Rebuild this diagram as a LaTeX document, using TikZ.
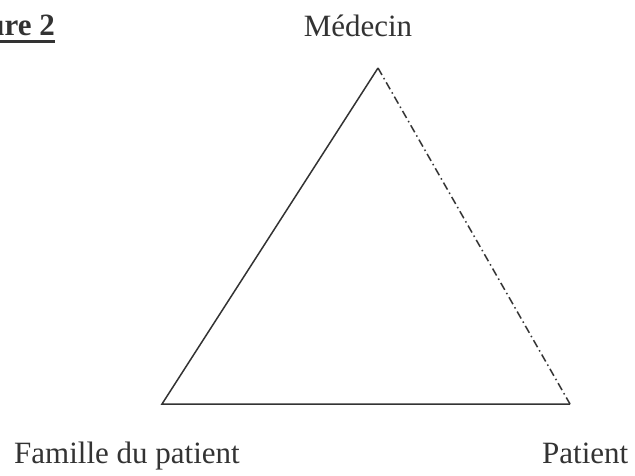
\documentclass[tikz,border=0pt]{standalone}
\usepackage{fontspec}
\setmainfont{Liberation Serif}
\usetikzlibrary{calc}
\begin{document}
\begin{tikzpicture}[x=1pt,y=-1pt,
  lbl/.style={inner sep=0pt, text=black!80, font=\fontsize{31}{37}\selectfont},
  side/.style={draw=black!80, line width=1.5pt},
  dashdot/.style={side, dash pattern=on 8pt off 3.5pt on 1.5pt off 3.5pt}]
\useasboundingbox (0,0) rectangle (635,475);
\begin{scope}
\clip (0,0) rectangle (635,475);
\node[lbl, font=\fontsize{31}{37}\selectfont\bfseries, anchor=base east] (fig) at (55,35) {Figure 2};
\draw[black!80, line width=3pt] ($(fig.base west)+(0,6.5)$) -- ($(fig.base east)+(0,6.5)$);
\end{scope}
\coordinate (M) at (378,68);
\coordinate (F) at (162,404);
\coordinate (P) at (570,404);
\draw[side, line join=miter] (P) -- (F) -- (M);
\draw[dashdot] (M) -- (P);
\node[lbl, anchor=base] (med) at (358,36) {Médecin};
\node[lbl, anchor=base west] (fam) at (14,463) {Famille du patient};
\node[lbl, anchor=base west] (pat) at (542,463) {Patient};
\end{tikzpicture}
\end{document}
